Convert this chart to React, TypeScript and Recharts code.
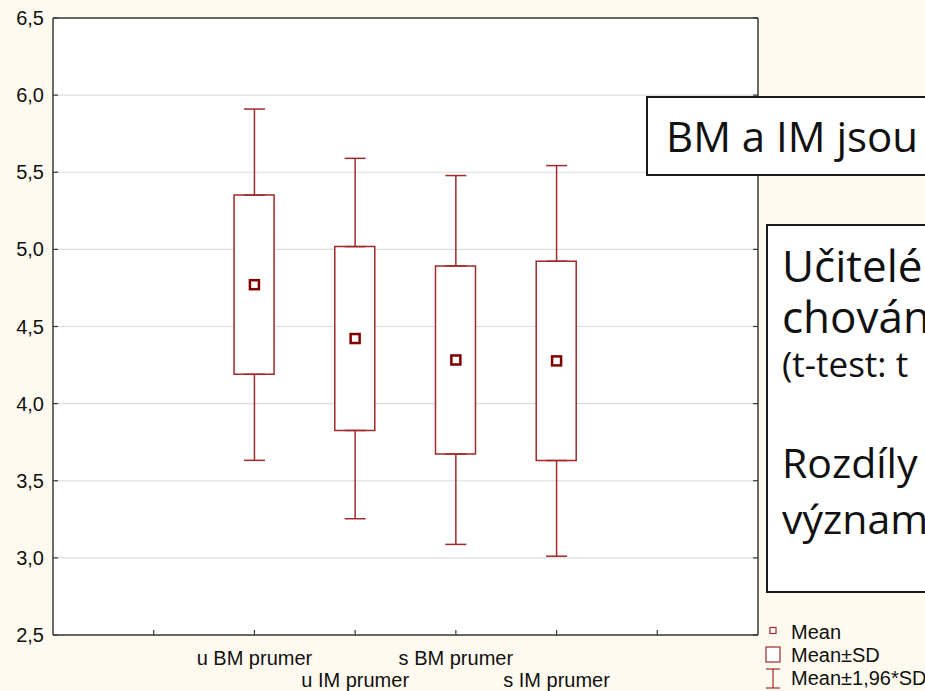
import React from 'react';
import { ComposedChart, Bar, Scatter, ErrorBar, XAxis, YAxis, CartesianGrid, Legend } from 'recharts';

// values
const categories = ['u BM prumer', 'u IM prumer', 's BM prumer', 's IM prumer'];
const categoryPositions = [2, 3, 4, 5];
const means = [4.771, 4.422, 4.283, 4.277];
const sds = [0.581, 0.596, 0.61, 0.646];
const whiskerFactor = 1.96;

const yTicks = [2.5, 3, 3.5, 4, 4.5, 5, 5.5, 6, 6.5];
const bottomTicks = [1, 2, 3, 4, 5, 6];
const topTicks = [0.66, 1.66, 2.66, 3.66, 4.66, 5.66, 6.66];

const legendItems = ['Mean', 'Mean±SD', 'Mean±1,96*SD'];
const noteTitle = 'BM a IM jsou';
const noteLines = ['Učitelé', 'chován', '(t-test: t', 'Rozdíly', 'význam'];

const BG = '#FFFAEF';
const AXIS = '#3a3a3a';
const BOX = '#9E2A2B';
const MEAN = '#800000';
const LABEL_FONT = '"Liberation Sans", Arial, sans-serif';
const NOTE_FONT = '"Open Sans", sans-serif';

const rows = categories.map((name, i) => {
  const m = means[i];
  const s = sds[i];
  return {
    name,
    x: categoryPositions[i],
    mean: m,
    sdBox: [m - s, m + s],
    sdHigh: m + s,
    sdLow: m - s,
    upper: [0, (whiskerFactor - 1) * s],
    lower: [(whiskerFactor - 1) * s, 0],
  };
});

const fmt = (v: number) => v.toFixed(1).replace('.', ',');

const BottomTick = (props: any) => {
  const { x, y, payload } = props;
  const idx = categoryPositions.indexOf(payload.value);
  return (
    <g>
      <line x1={x} y1={y} x2={x} y2={y - 5} stroke={AXIS} strokeWidth={1.2} />
      {idx >= 0 && (
        <text x={x} y={y + (idx % 2 === 0 ? 30 : 52)} textAnchor="middle" fontSize={20} fontFamily={LABEL_FONT} fill="#111">
          {categories[idx]}
        </text>
      )}
    </g>
  );
};

const LeftTick = (props: any) => {
  const { x, y, payload } = props;
  return (
    <g>
      <line x1={x} y1={y} x2={x + 5} y2={y} stroke={AXIS} strokeWidth={1.2} />
      <text x={x - 9} y={y + 7} textAnchor="end" fontSize={20} fontFamily={LABEL_FONT} fill="#111">
        {fmt(payload.value)}
      </text>
    </g>
  );
};

const RightTick = (props: any) => {
  const { x, y } = props;
  return <line x1={x} y1={y} x2={x - 5} y2={y} stroke={AXIS} strokeWidth={1.2} />;
};

const hiddenShape = () => <g />;

const MeanMarker = (props: any) => {
  const { cx, cy } = props;
  return <rect x={cx - 4.5} y={cy - 4.5} width={9} height={9} fill="#fff" stroke={MEAN} strokeWidth={2.5} />;
};

const LegendContent = () => (
  <svg width={170} height={76} style={{ display: 'block' }}>
    <rect x={15} y={12.5} width={6} height={6} fill="#fff" stroke={BOX} strokeWidth={1.2} />
    <rect x={11} y={32} width={14} height={15} fill="#fff" stroke={BOX} strokeWidth={1.2} />
    <line x1={11} y1={54} x2={25} y2={54} stroke={BOX} strokeWidth={1.2} />
    <line x1={18} y1={54} x2={18} y2={73} stroke={BOX} strokeWidth={1.2} />
    <line x1={11} y1={73} x2={25} y2={73} stroke={BOX} strokeWidth={1.2} />
    {legendItems.map((t, i) => (
      <text key={t} x={36} y={24 + i * 23} fontSize={20} fontFamily={LABEL_FONT} fill="#111">
        {t}
      </text>
    ))}
  </svg>
);

const noteSizes = [44, 44, 35, 41, 41];
const noteBaselines = [282, 333, 377, 478, 534];

export default function App() {
  return (
    <div style={{ position: 'absolute', left: 0, top: 0, width: 925, height: 691, background: BG, overflow: 'hidden' }}>
      <ComposedChart width={925} height={691} data={rows} margin={{ top: 18, right: 166, bottom: 16, left: 8 }}>
        <CartesianGrid vertical={false} stroke="#dcdcdc" strokeWidth={1.2} fill="#ffffff" />
        <XAxis
          dataKey="x"
          type="number"
          domain={[0, 7]}
          ticks={bottomTicks}
          interval={0}
          height={40}
          tickSize={0}
          tickMargin={0}
          tickLine={false}
          axisLine={{ stroke: AXIS, strokeWidth: 1.5 }}
          tick={<BottomTick />}
        />
        <XAxis
          xAxisId="top"
          dataKey="x"
          orientation="top"
          type="number"
          domain={[0, 7]}
          allowDataOverflow
          ticks={topTicks}
          interval={0}
          height={1}
          mirror
          tickSize={5}
          tick={false}
          tickLine={{ stroke: AXIS, strokeWidth: 1.2 }}
          axisLine={{ stroke: AXIS, strokeWidth: 1.5 }}
        />
        <YAxis
          type="number"
          domain={[2.5, 6.5]}
          ticks={yTicks}
          interval={0}
          width={45}
          tickSize={0}
          tickMargin={0}
          tickLine={false}
          axisLine={{ stroke: AXIS, strokeWidth: 1.5 }}
          tick={<LeftTick />}
        />
        <YAxis
          yAxisId="right"
          orientation="right"
          type="number"
          domain={[2.5, 6.5]}
          allowDataOverflow
          ticks={yTicks}
          interval={0}
          width={1}
          tickSize={0}
          tickMargin={0}
          tickLine={false}
          axisLine={{ stroke: AXIS, strokeWidth: 1.5 }}
          tick={<RightTick />}
        />
        <Bar dataKey="sdBox" barSize={40} fill="#ffffff" stroke={BOX} strokeWidth={1.5} isAnimationActive={false} />
        <Scatter dataKey="sdHigh" shape={hiddenShape} isAnimationActive={false}>
          <ErrorBar dataKey="upper" direction="y" width={10.5} stroke={BOX} strokeWidth={1.5} isAnimationActive={false} />
        </Scatter>
        <Scatter dataKey="sdLow" shape={hiddenShape} isAnimationActive={false}>
          <ErrorBar dataKey="lower" direction="y" width={10.5} stroke={BOX} strokeWidth={1.5} isAnimationActive={false} />
        </Scatter>
        <Scatter dataKey="mean" shape={MeanMarker} isAnimationActive={false} />
        <Legend
          layout="vertical"
          align="center"
          verticalAlign="middle"
          wrapperStyle={{ left: 755, top: 615, width: 170, height: 76 }}
          content={LegendContent}
        />
      </ComposedChart>

      {/* text boxes laid over the chart */}
      <svg width={925} height={691} style={{ position: 'absolute', left: 0, top: 0, pointerEvents: 'none' }}>
        <rect x={647} y={97} width={400} height={78} fill="#ffffff" stroke="#1a1a1a" strokeWidth={2} />
        <text x={666} y={152} fontSize={42} fontFamily={NOTE_FONT} fill="#111">
          {noteTitle}
        </text>
        <rect x={767} y={225} width={300} height={367} fill="#ffffff" stroke="#1a1a1a" strokeWidth={2} />
        {noteLines.map((t, i) => (
          <text key={t} x={782} y={noteBaselines[i]} fontSize={noteSizes[i]} fontFamily={NOTE_FONT} fill="#111">
            {t}
          </text>
        ))}
      </svg>
    </div>
  );
}
